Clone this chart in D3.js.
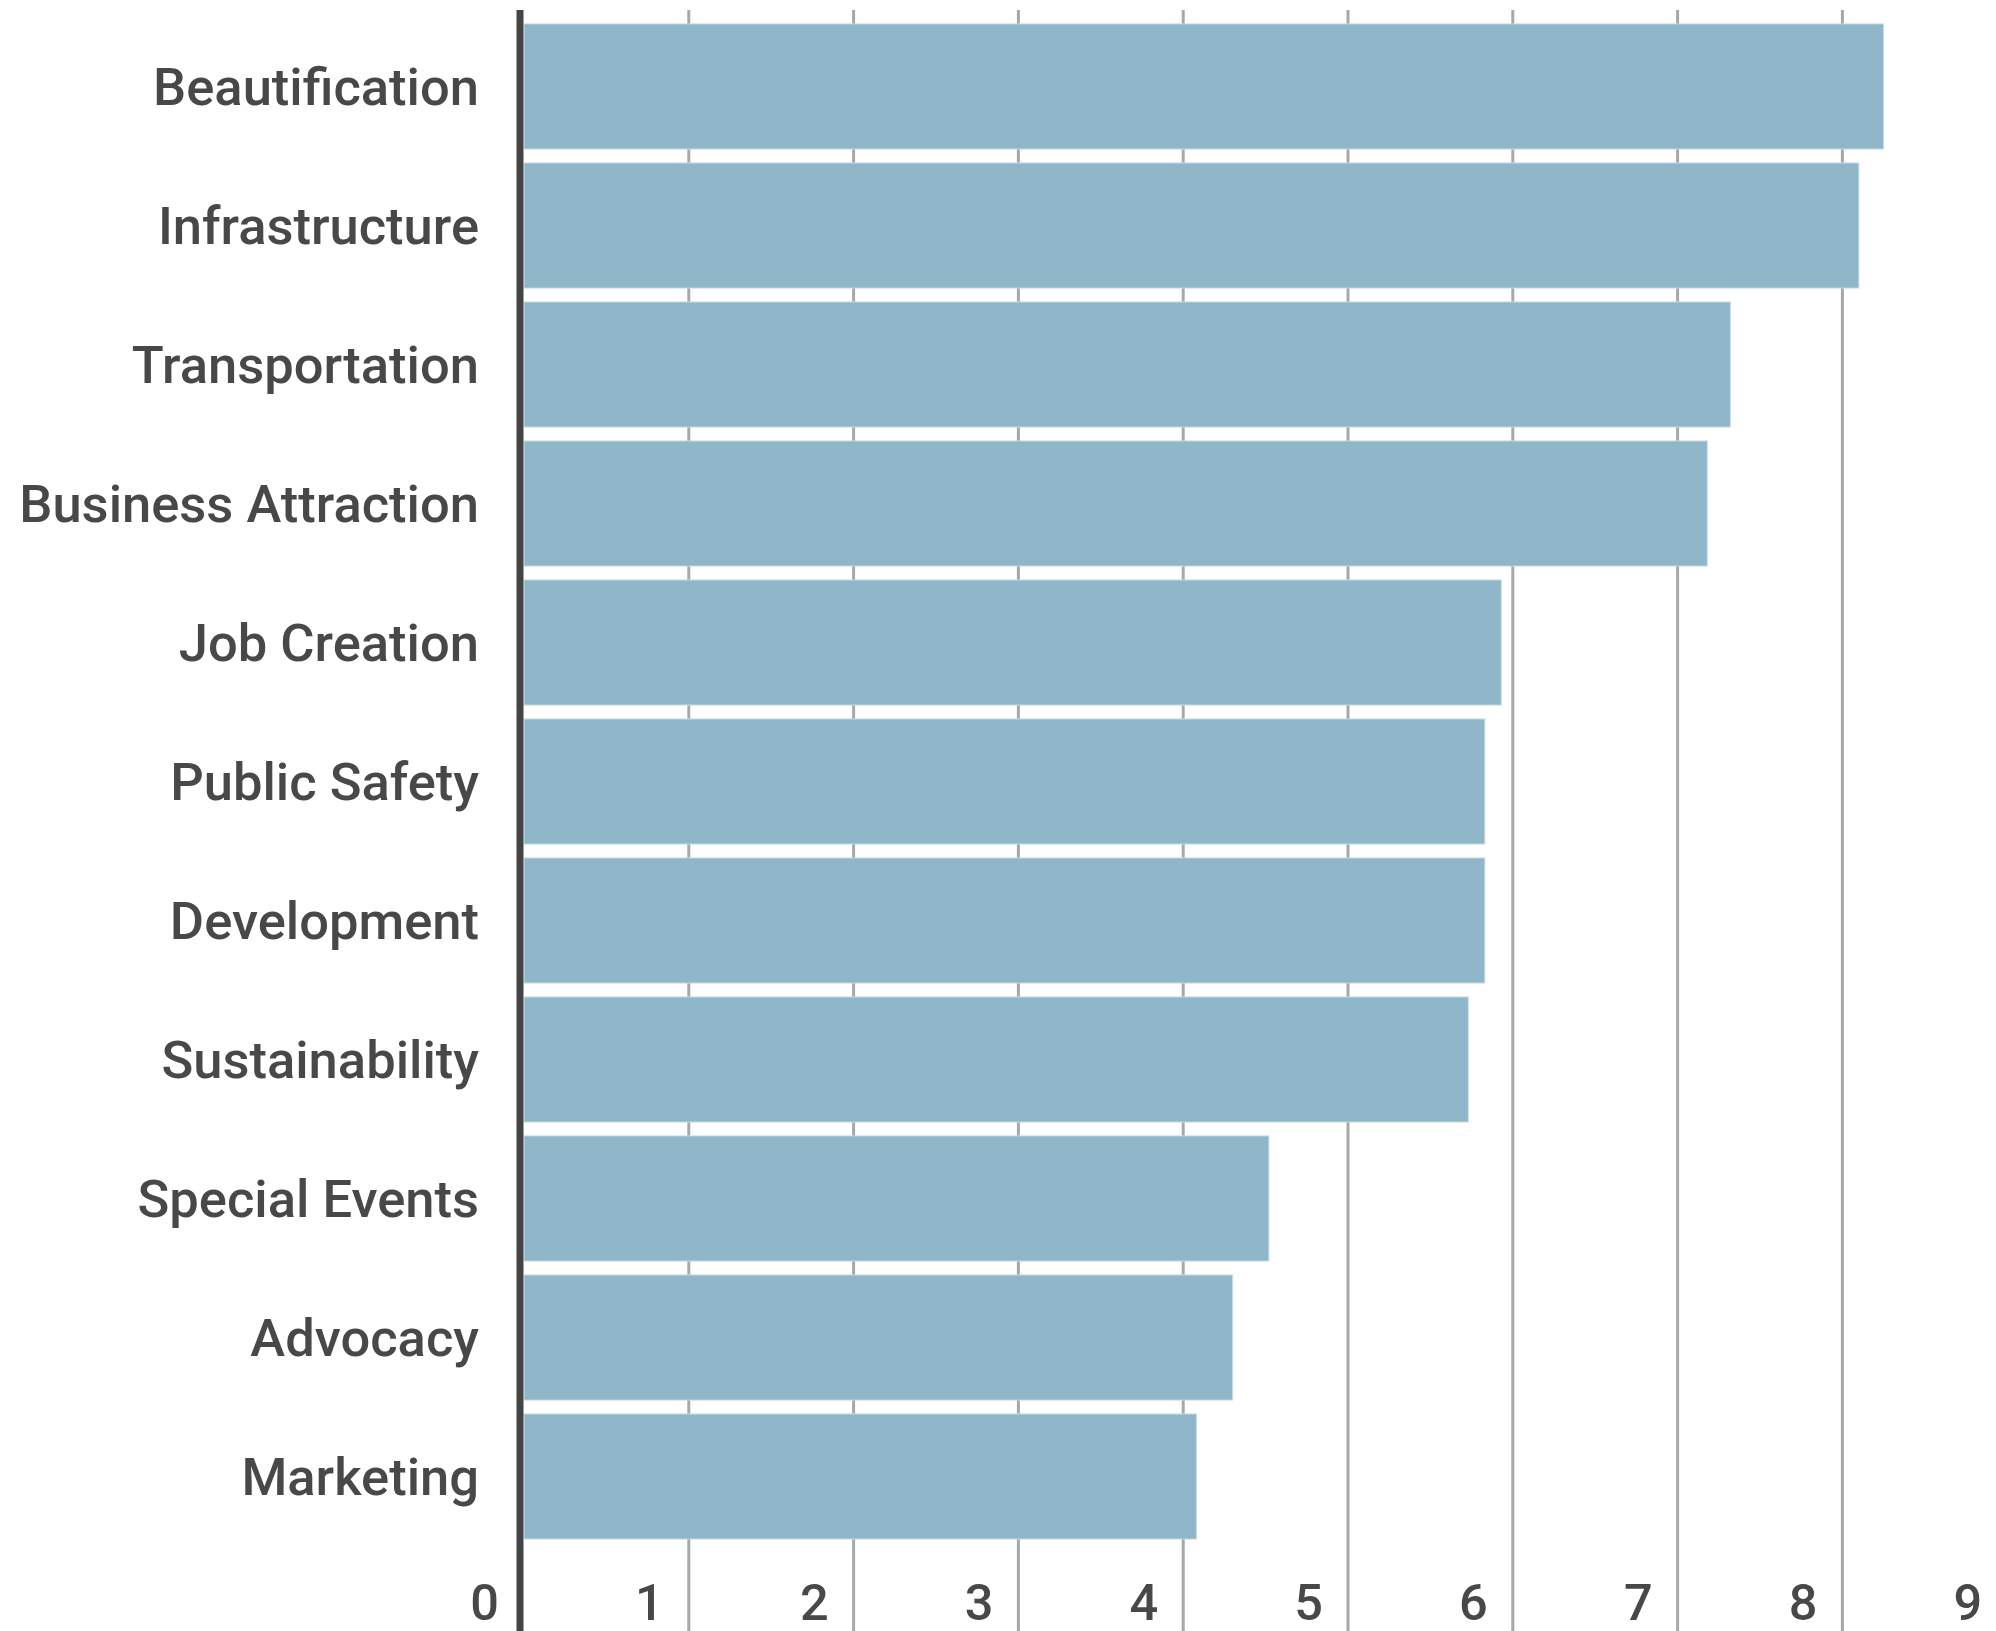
<!DOCTYPE html>
<html>
<head>
<meta charset="utf-8">
<script src="https://cdn.jsdelivr.net/npm/d3@7"></script>
<style>
  html, body { margin: 0; padding: 0; background: #ffffff; }
  svg { display: block; }
  text { font-family: Roboto, "Noto Sans", sans-serif; fill: #484848; }
</style>
</head>
<body>
<svg id="chart" width="1996" height="1631"></svg>
<script>
const categories = ["Beautification", "Infrastructure", "Transportation", "Business Attraction",
  "Job Creation", "Public Safety", "Development", "Sustainability", "Special Events",
  "Advocacy", "Marketing"];
const values = [8.25, 8.10, 7.32, 7.18, 5.93, 5.83, 5.83, 5.73, 4.52, 4.30, 4.08];
const tickValues = [0, 1, 2, 3, 4, 5, 6, 7, 8, 9];
const tickLabels = ["0", "1", "2", "3", "4", "5", "6", "7", "8", "9"];

const W = 1996, H = 1631;
const svg = d3.select("#chart");

const x = d3.scaleLinear().domain([0, 9]).range([524, 524 + 9 * 164.8]);
const y = d3.scaleBand().domain(categories).range([17, 1546]).paddingInner(0.1).paddingOuter(0.05);

// gridlines
svg.append("g").selectAll("line")
  .data(tickValues.filter(d => d > 0))
  .join("line")
  .attr("x1", d => x(d)).attr("x2", d => x(d))
  .attr("y1", 10).attr("y2", H)
  .attr("stroke", "#a8a8a8")
  .attr("stroke-width", 3);

// bars
svg.append("g").selectAll("rect")
  .data(categories)
  .join("rect")
  .attr("x", x(0))
  .attr("y", d => y(d))
  .attr("width", (d, i) => x(values[i]) - x(0))
  .attr("height", y.bandwidth())
  .attr("fill", "#8fb6c9")
  .attr("stroke", "#c9dde6")
  .attr("stroke-width", 1);

// axis line
svg.append("line")
  .attr("x1", x(0) - 4).attr("x2", x(0) - 4)
  .attr("y1", 10).attr("y2", H)
  .attr("stroke", "#444444")
  .attr("stroke-width", 7);

// category labels
svg.append("g").selectAll("text")
  .data(categories)
  .join("text")
  .attr("x", 479)
  .attr("y", d => y(d) + y.bandwidth() / 2)
  .attr("dy", "0.36em")
  .attr("text-anchor", "end")
  .attr("font-size", 52.5)
  .attr("font-weight", 500)
  .text(d => d);

// tick labels
svg.append("g").selectAll("text")
  .data(tickValues)
  .join("text")
  .attr("x", d => x(d) - 25)
  .attr("y", 1620)
  .attr("text-anchor", "end")
  .attr("font-size", 50.5)
  .attr("font-weight", 500)
  .text((d, i) => tickLabels[i]);
</script>
</body>
</html>
